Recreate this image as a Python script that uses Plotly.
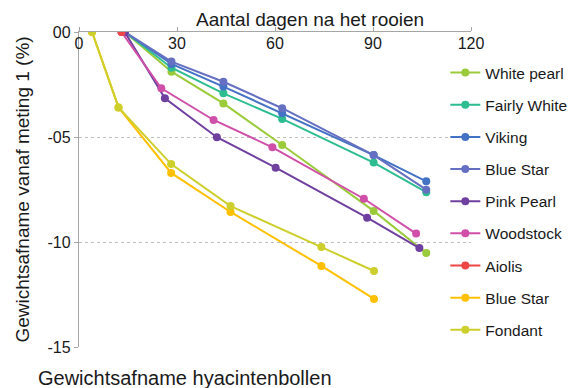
import plotly.graph_objects as go

# Data
series_names = ["White pearl", "Fairly White", "Viking", "Blue Star", "Pink Pearl",
                "Woodstock", "Aiolis", "Blue Star", "Fondant"]
colors = ["#9BCB3A", "#2DBD91", "#4472C4", "#6670C2", "#7040A0",
          "#D04FA8", "#EE4545", "#FFC000", "#CDCF2C"]

x_white_pearl = [14, 28.3, 44.2, 62.2, 90.2, 106.3]
y_white_pearl = [0, -1.89, -3.40, -5.38, -8.52, -10.52]
x_fairly_white = [14, 28.3, 44.2, 62.2, 90.2, 106.3]
y_fairly_white = [0, -1.70, -2.92, -4.14, -6.22, -7.63]
x_viking = [14, 28.3, 44.2, 62.2, 90.2, 106.3]
y_viking = [0, -1.52, -2.60, -3.87, -5.86, -7.11]
x_blue_star = [14, 28.3, 44.2, 62.2, 90.2, 106.3]
y_blue_star = [0, -1.41, -2.37, -3.63, -5.86, -7.51]
x_pink_pearl = [14, 26.3, 42.2, 60.2, 88.2, 104.2]
y_pink_pearl = [0, -3.16, -5.01, -6.46, -8.84, -10.29]
x_woodstock = [13, 25.2, 41.2, 59.2, 87.2, 103.2]
y_woodstock = [0, -2.68, -4.19, -5.49, -7.94, -9.60]
x_aiolis = [13]
y_aiolis = [0]
x_blue_star2 = [4, 12.1, 28.2, 46.4, 74.2, 90.3]
y_blue_star2 = [0, -3.59, -6.71, -8.57, -11.14, -12.71]
x_fondant = [4, 12.1, 28.2, 46.4, 74.2, 90.3]
y_fondant = [0, -3.59, -6.29, -8.29, -10.24, -11.38]

xs = [x_white_pearl, x_fairly_white, x_viking, x_blue_star, x_pink_pearl,
      x_woodstock, x_aiolis, x_blue_star2, x_fondant]
ys = [y_white_pearl, y_fairly_white, y_viking, y_blue_star, y_pink_pearl,
      y_woodstock, y_aiolis, y_blue_star2, y_fondant]

x_ticks = [0, 30, 60, 90, 120]
x_ticktext = ["0", "30", "60", "90", "120"]
y_ticks = [0, -5, -10, -15]
y_ticktext = ["00", "-05", "-10", "-15"]

FONT = "Liberation Sans, Arial, sans-serif"

fig = go.Figure()
for i, (name, c, x, y) in enumerate(zip(series_names, colors, xs, ys)):
    fig.add_trace(go.Scatter(
        x=x, y=y, name=name, mode="lines+markers",
        line=dict(color=c, width=2),
        marker=dict(color=c, size=8),
        legendgroup="g%d" % i,
    ))
# invisible helper trace so the label axis (xaxis2) is drawn
fig.add_trace(go.Scatter(x=x_ticks, y=[None] * len(x_ticks), xaxis="x2",
                         showlegend=False, hoverinfo="skip", mode="lines"))

L, R, T, B = 79, 476, 32, 347
fig.update_layout(
    width=584, height=388,
    margin=dict(l=L, r=584 - R, t=T, b=388 - B),
    paper_bgcolor="white", plot_bgcolor="white",
    font=dict(family=FONT, color="#1a1a1a", size=15),
    showlegend=True,
    legend=dict(
        x=(450 - L) / (R - L), xanchor="left",
        y=(B - 56) / (B - T), yanchor="top",
        font=dict(size=15.5, family=FONT),
        bgcolor="rgba(0,0,0,0)",
        traceorder="grouped", tracegroupgap=9,
        itemwidth=30,
    ),
    title=dict(
        text="Gewichtsafname hyacintenbollen",
        font=dict(size=20, family=FONT, color="#1a1a1a"),
        x=38 / 584, xanchor="left", xref="container",
        y=1 - 378 / 388, yanchor="middle", yref="container",
    ),
    xaxis=dict(
        side="top", range=[0, 120], tickvals=x_ticks, showticklabels=False,
        ticks="outside", ticklen=4, tickcolor="#A6A6A6",
        showline=True, linecolor="#A6A6A6", linewidth=1.3,
        showgrid=False, zeroline=False, automargin=False,
    ),
    xaxis2=dict(
        overlaying="x", anchor="free", position=1, side="bottom",
        range=[0, 120], tickvals=x_ticks, ticktext=x_ticktext,
        ticks="", showline=False, showgrid=False, zeroline=False,
        automargin=False, tickfont=dict(size=16, family=FONT),
    ),
    yaxis=dict(
        range=[-15, 0], tickvals=y_ticks, ticktext=y_ticktext,
        ticks="outside", ticklen=4, tickcolor="#A6A6A6",
        showline=True, linecolor="#A6A6A6", linewidth=1.3,
        showgrid=True, gridcolor="#BFBFBF", griddash="dot", gridwidth=1,
        zeroline=False, automargin=False,
        tickfont=dict(size=16, family=FONT),
        title=dict(text="Gewichtsafname vanaf meting 1 (%)", font=dict(size=19, family=FONT), standoff=12),
    ),
    annotations=[dict(
        text="Aantal dagen na het rooien", xref="paper", x=(313 - L) / (R - L), xanchor="center",
        yref="paper", y=(B - 20) / (B - T), yanchor="middle", showarrow=False,
        font=dict(size=19, family=FONT, color="#1a1a1a"),
    )],
)

fig.write_html("out.html", config={"displayModeBar": False},
               post_script="document.body.style.margin='0';document.body.style.padding='0';")
